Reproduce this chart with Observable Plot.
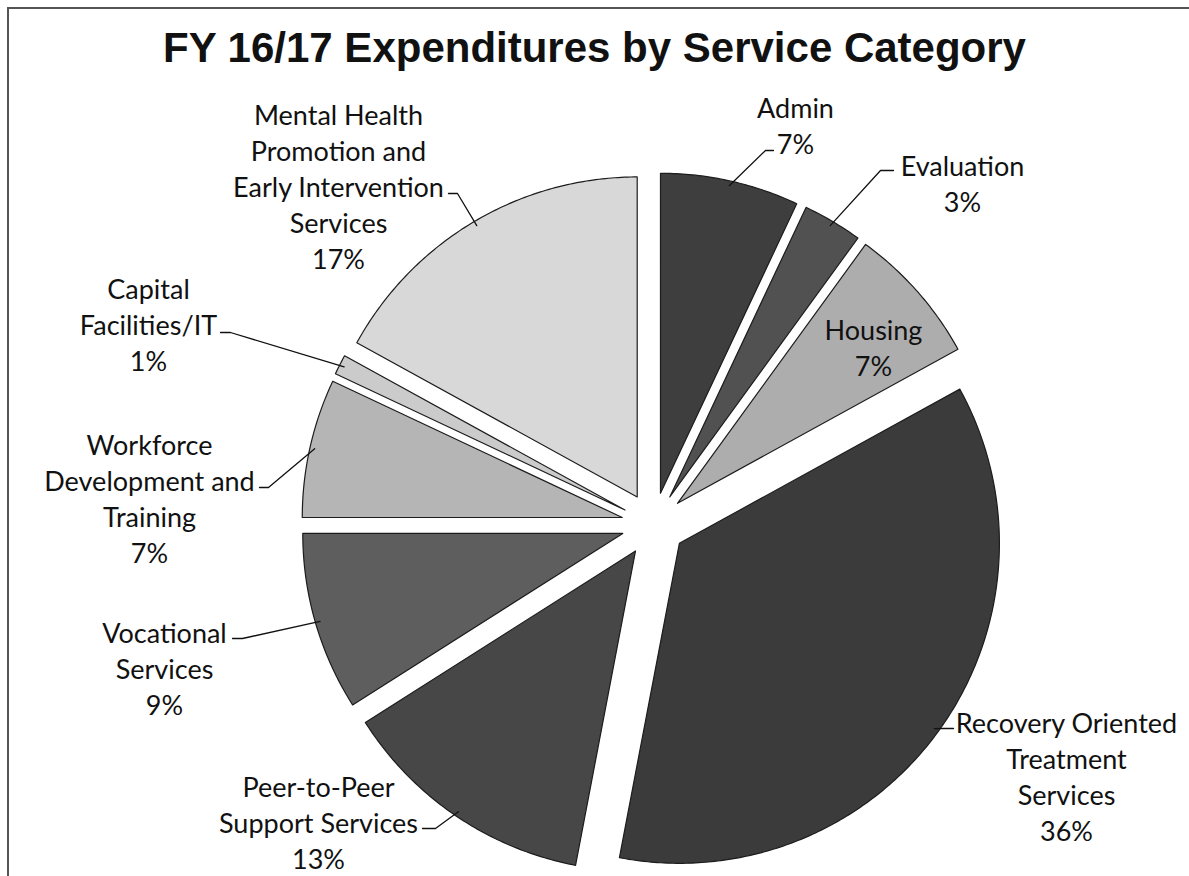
<!DOCTYPE html>
<html>
<head>
<meta charset="utf-8">
<script src="https://cdn.jsdelivr.net/npm/d3@7"></script>
<script src="https://cdn.jsdelivr.net/npm/@observablehq/plot@0.6"></script>
<style>
  html, body { margin: 0; padding: 0; background: #fff; }
  body { width: 1189px; height: 876px; overflow: hidden; position: relative; }
  #frame { position: absolute; left: 7px; top: 7px; width: 1182px; height: 869px;
           border-top: 2px solid #555; border-left: 2px solid #555; box-sizing: border-box; pointer-events: none; }
  #title { margin: 0; height: 90px; box-sizing: border-box; padding-top: 24px; text-align: center;
           font: bold 42px "Liberation Sans", Arial, sans-serif; line-height: normal; color: #111; white-space: nowrap; }
  #chart svg { display: block; }
</style>
</head>
<body>
<div id="frame"></div>
<h1 id="title">FY 16/17 Expenditures by Service Category</h1>
<div id="chart"></div>
<script>
// ---- data ----
const categories = [
  "Admin",
  "Evaluation",
  "Housing",
  "Recovery Oriented Treatment Services",
  "Peer-to-Peer Support Services",
  "Vocational Services",
  "Workforce Development and Training",
  "Capital Facilities/IT",
  "Mental Health Promotion and Early Intervention Services"
];
const labelLines = [
  ["Admin"],
  ["Evaluation"],
  ["Housing"],
  ["Recovery Oriented", "Treatment", "Services"],
  ["Peer-to-Peer", "Support Services"],
  ["Vocational", "Services"],
  ["Workforce", "Development and", "Training"],
  ["Capital", "Facilities/IT"],
  ["Mental Health", "Promotion and", "Early Intervention", "Services"]
];
const values = [7, 3, 7, 36, 13, 9, 7, 1, 17];
const fills = ["#3e3e3e", "#515151", "#adadad", "#3b3b3b", "#474747", "#5e5e5e", "#b5b5b5", "#cbcbcb", "#d8d8d8"];

// ---- layout (pixels) ----
const W = 1189, H = 786;
const CX = 653, CY = 434;     // pie centre inside the svg
const R = 320;                // pie radius
const EXPLODE = 32;           // slice explosion
// label block centre and leader elbow, relative to pie centre (px, y down); tick = horizontal tick length
const labelLayout = [
  {lx: 142, ly: -400, ex: 112, ey: -374, tick: 8},
  {lx: 309, ly: -342, ex: 227, ey: -354, tick: 13},
  {lx: 220, ly: -178, ex: null},
  {lx: 413, ly: 251, ex: 289, ey: 204, tick: 11},
  {lx: -335, ly: 297, ex: -218, ey: 304, tick: -13},
  {lx: -489, ly: 143, ex: -411, ey: 114, tick: -10},
  {lx: -504, ly: -27, ex: -385, ey: -37, tick: -9},
  {lx: -505, ly: -201, ex: -423, ey: -192, tick: -10},
  {lx: -315, ly: -339, ex: -196, ey: -331, tick: -9}
];

// ---- geometry in radius units (y up) ----
const rows = categories.map((c, i) => ({cat: c, value: values[i], i}));
const arcs = d3.pie().sort(null).value(d => d.value)(rows);
const e = EXPLODE / R;
const slicePts = [];
const leaderPts = [];
const labels = [];
arcs.forEach(a => {
  const d = a.data;
  const mid = (a.startAngle + a.endAngle) / 2;
  const ax = e * Math.sin(mid), ay = e * Math.cos(mid);
  slicePts.push({cat: d.cat, x: ax, y: ay});
  const steps = Math.max(2, Math.ceil((a.endAngle - a.startAngle) / 0.01));
  for (let k = 0; k <= steps; k++) {
    const t = a.startAngle + (a.endAngle - a.startAngle) * k / steps;
    slicePts.push({cat: d.cat, x: ax + Math.sin(t), y: ay + Math.cos(t)});
  }
  const L = labelLayout[d.i];
  labels.push({
    cat: d.cat,
    x: L.lx / R, y: -L.ly / R,
    text: labelLines[d.i].join("\n") + "\n" + d3.format(".0f")(d.value) + "%"
  });
  if (L.ex !== null) {
    const px = ax + 0.985 * Math.sin(mid), py = ay + 0.985 * Math.cos(mid);
    leaderPts.push({cat: d.cat, x: px, y: py});
    leaderPts.push({cat: d.cat, x: L.ex / R, y: -L.ey / R});
    leaderPts.push({cat: d.cat, x: (L.ex + L.tick) / R, y: -L.ey / R});
  }
});

const chart = Plot.plot({
  width: W,
  height: H,
  margin: 0,
  style: {background: "transparent", overflow: "visible"},
  x: {domain: [-CX / R, (W - CX) / R], range: [0, W], axis: null},
  y: {domain: [-(H - CY) / R, CY / R], range: [H, 0], axis: null},
  color: {domain: categories, range: fills},
  marks: [
    Plot.line(slicePts, {x: "x", y: "y", z: "cat", fill: "cat", stroke: "#1c1c1c", strokeWidth: 1.2, curve: "linear-closed"}),
    Plot.line(leaderPts, {x: "x", y: "y", z: "cat", stroke: "#111", strokeWidth: 1.3}),
    Plot.text(labels, {x: "x", y: "y", text: "text", lineAnchor: "middle", lineHeight: 1.34,
      fontSize: 27, fontFamily: "Lato, 'Open Sans', sans-serif", fill: "#111"})
  ]
});
document.getElementById("chart").appendChild(chart);
</script>
</body>
</html>
